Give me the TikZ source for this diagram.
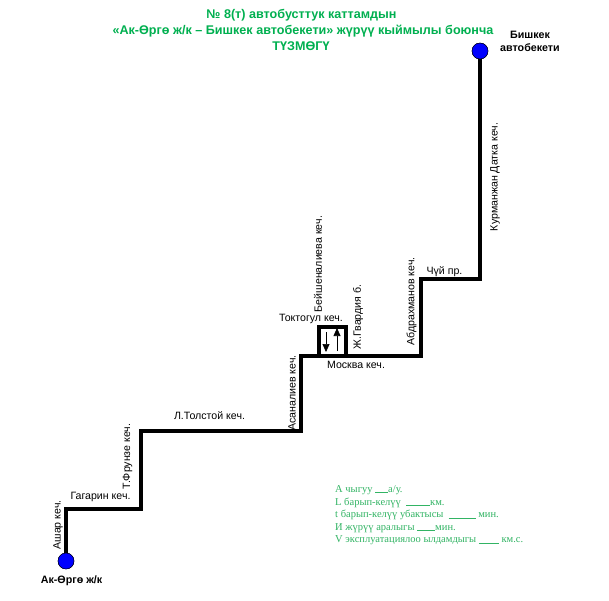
\documentclass[tikz,border=0pt]{standalone}
\usepackage{fontspec}
\setmainfont{Liberation Sans}
\newfontfamily\serifgreen{Liberation Serif}
\definecolor{titlegreen}{RGB}{0,176,80}
\definecolor{notegreen}{RGB}{50,180,100}
\usetikzlibrary{arrows.meta}
\tikzset{
  x=1pt,y=-1pt,
  route/.style={line width=4pt,black,line join=miter},
  stopdot/.style={circle,fill=blue,draw=black,line width=0.4pt,minimum size=16pt,inner sep=0pt},
  lbl/.style={font=\fontsize{10.6}{12}\selectfont,inner sep=0pt,black},
  vlbl/.style={lbl,rotate=90},
  stopname/.style={font=\bfseries\fontsize{10.7}{13}\selectfont,inner sep=0pt,align=center},
  titleline/.style={font=\bfseries\fontsize{12.6}{14}\selectfont,text=titlegreen,inner sep=0pt},
  note/.style={font=\serifgreen\fontsize{10.5}{12}\selectfont,text=notegreen,inner sep=0pt,anchor=west},
  flow/.style={line width=0.7pt,-{Triangle[length=8pt,width=7pt]}}
}
\begin{document}
\begin{tikzpicture}
\useasboundingbox (0,0) rectangle (609,600);
\fill[white] (0,0) rectangle (609,600);
% titles
\node[titleline] (t1) at (301.5,15) {№ 8(т) автобусттук каттамдын};
\node[titleline] (t2) at (303,31) {«Ак-Өргө ж/к – Бишкек автобекети» жүрүү кыймылы боюнча};
\node[titleline] (t3) at (301,46) {ТҮЗМӨГҮ};
% route
\coordinate (p1) at (66,509);
\coordinate (p2) at (141,509);
\coordinate (p3) at (141,431);
\coordinate (p4) at (301,431);
\coordinate (p5) at (301,355.5);
\coordinate (p6) at (421,355.5);
\coordinate (p7) at (421,279);
\coordinate (p8) at (480,279);
\coordinate (l1) at (319,355.5);
\coordinate (l2) at (319,326.5);
\coordinate (l3) at (346,326.5);
\coordinate (l4) at (346,355.5);
\node[stopdot] (ak) at (66,561) {};
\node[stopdot] (bi) at (480,51) {};
\draw[route] (l1) -- (l2) -- (l3) -- (l4);
\draw[route] (ak.center) -- (p1) -- (p2) -- (p3) -- (p4) -- (p5) -- (p6) -- (p7) -- (p8) -- (bi.center);
\node[stopdot] at (ak) {};
\node[stopdot] at (bi) {};
% direction arrows
\coordinate (d1) at (326,332);
\coordinate (d2) at (326,352);
\coordinate (u1) at (337,351);
\coordinate (u2) at (337,328);
\draw[flow] (d1) -- (d2);
\draw[flow] (u1) -- (u2);
% stop names
\node[stopname] (nak) at (71.5,580.5) {Ак-Өргө ж/к};
\node[stopname] (nbi) at (530,41) {Бишкек\\автобекети};
% street labels
\node[vlbl] (s1) at (58,525) {Ашар кеч.};
\node[lbl] (s2) at (100.5,497) {Гагарин кеч.};
\node[vlbl] (s3) at (127.5,456.5) {Т.Фрунзе кеч.};
\node[lbl] (s4) at (209.5,416) {Л.Толстой кеч.};
\node[vlbl] (s5) at (292,393) {Асаналиев кеч.};
\node[lbl] (s6) at (356,364.5) {Москва кеч.};
\node[lbl] (s7) at (311,319) {Токтогул кеч.};
\node[vlbl] (s8) at (318,264) {Бейшеналиева кеч.};
\node[vlbl] (s9) at (358,317) {Ж.Гвардия б.};
\node[vlbl] (s10) at (411.5,301.5) {Абдрахманов кеч.};
\node[lbl] (s11) at (444.5,271.5) {Чүй пр.};
\node[vlbl] (s12) at (495,177) {Курманжан Датка кеч.};
% notes
\node[note] (n1) at (335,490) {А чыгуу \rule[-0.5pt]{13pt}{0.5pt}а/у.};
\node[note] (n2) at (335,502.5) {L барып-келүү \ \rule[-0.5pt]{24pt}{0.5pt}км.};
\node[note] (n3) at (335,515) {t барып-келүү убактысы \ \rule[-0.5pt]{27pt}{0.5pt} мин.};
\node[note] (n4) at (335,528) {И жүрүү аралыгы \rule[-0.5pt]{18pt}{0.5pt}мин.};
\node[note] (n5) at (335,540.5) {V эксплуатациялоо ылдамдыгы \rule[-0.5pt]{20pt}{0.5pt} км.с.};
\end{tikzpicture}
\end{document}
